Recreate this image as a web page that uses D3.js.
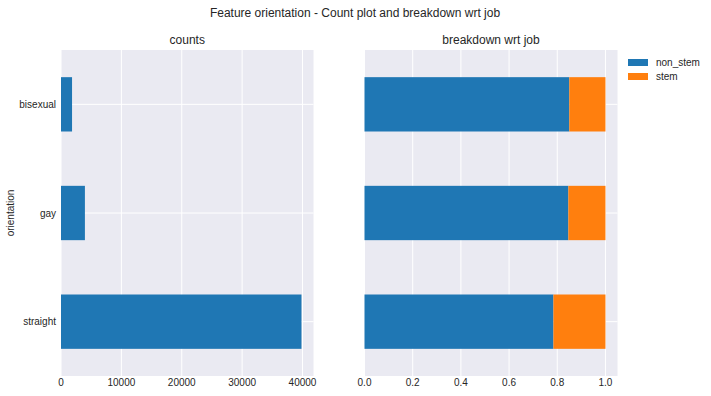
<!DOCTYPE html>
<html>
<head>
<meta charset="utf-8">
<script src="https://d3js.org/d3.v7.min.js"></script>
<style>
  body { margin: 0; background: #fff; }
  text { font-family: "Liberation Sans", Arial, sans-serif; fill: #262626; }
</style>
</head>
<body>
<div id="chart"></div>
<script>
// data
var categories = ["bisexual", "gay", "straight"];
var counts = [1830, 3960, 39830];
var nonStemShare = [0.85, 0.846, 0.784];
var stemShare = [0.15, 0.154, 0.216];
var seriesNames = ["non_stem", "stem"];
var countTicks = [0, 10000, 20000, 30000, 40000];
var shareTicks = [0, 0.2, 0.4, 0.6, 0.8, 1.0];

var W = 711, H = 396;
var blue = "#1f77b4", orange = "#ff7f0e", bg = "#eaeaf2";

var svg = d3.select("#chart").append("svg")
    .attr("width", W).attr("height", H);

var plotTop = 50, plotBottom = 376;

// shared y: categories at 0,1,2 with bars 0.5 wide, limits -0.5..2.5
var y = d3.scaleLinear().domain([-0.5, 2.5]).range([plotTop, plotBottom]);
var barH = y(0.25) - y(-0.25);

function panel(x0, x1, xScale, ticks, fmt, title) {
    var g = svg.append("g");
    g.append("rect").attr("x", x0).attr("y", plotTop)
        .attr("width", x1 - x0).attr("height", plotBottom - plotTop).attr("fill", bg);
    // grid
    g.selectAll(".vg").data(ticks).enter().append("line")
        .attr("x1", function(d){ return xScale(d); }).attr("x2", function(d){ return xScale(d); })
        .attr("y1", plotTop).attr("y2", plotBottom)
        .attr("stroke", "#fff").attr("stroke-width", 1);
    g.selectAll(".hg").data(categories).enter().append("line")
        .attr("x1", x0).attr("x2", x1)
        .attr("y1", function(d, i){ return y(i); }).attr("y2", function(d, i){ return y(i); })
        .attr("stroke", "#fff").attr("stroke-width", 1);
    // tick labels
    g.selectAll(".tl").data(ticks).enter().append("text")
        .attr("x", function(d){ return xScale(d); }).attr("y", plotBottom + 10)
        .attr("text-anchor", "middle").attr("font-size", 10)
        .text(fmt);
    g.append("text").attr("x", (x0 + x1) / 2).attr("y", plotTop - 6)
        .attr("text-anchor", "middle").attr("font-size", 12).text(title);
    return g;
}

// left: counts
var xc = d3.scaleLinear().domain([0, d3.max(counts) * 1.05]).range([61, 313.5]);
var gl = panel(61, 313.5, xc, countTicks, function(d){ return d; }, "counts");
gl.selectAll(".bar").data(counts).enter().append("rect")
    .attr("x", xc(0)).attr("y", function(d, i){ return y(i) - barH / 2; })
    .attr("width", function(d){ return xc(d) - xc(0); }).attr("height", barH)
    .attr("fill", blue);
gl.selectAll(".yl").data(categories).enter().append("text")
    .attr("x", 56).attr("y", function(d, i){ return y(i); })
    .attr("dy", "0.35em").attr("text-anchor", "end").attr("font-size", 10)
    .text(function(d){ return d; });
svg.append("text").attr("transform", "translate(14," + y(1) + ") rotate(-90)")
    .attr("text-anchor", "middle").attr("font-size", 10).text("orientation");

// right: breakdown
var xs = d3.scaleLinear().domain([0, 1.05]).range([364.5, 617.5]);
var gr = panel(364.5, 617.5, xs, shareTicks, d3.format(".1f"), "breakdown wrt job");
gr.selectAll(".ns").data(nonStemShare).enter().append("rect")
    .attr("x", xs(0)).attr("y", function(d, i){ return y(i) - barH / 2; })
    .attr("width", function(d){ return xs(d) - xs(0); }).attr("height", barH)
    .attr("fill", blue);
gr.selectAll(".st").data(stemShare).enter().append("rect")
    .attr("x", function(d, i){ return xs(nonStemShare[i]); })
    .attr("y", function(d, i){ return y(i) - barH / 2; })
    .attr("width", function(d, i){ return xs(nonStemShare[i] + d) - xs(nonStemShare[i]); })
    .attr("height", barH)
    .attr("fill", orange);

// legend
var lg = svg.append("g").attr("transform", "translate(628,59)");
seriesNames.forEach(function(name, i) {
    lg.append("rect").attr("x", 0).attr("y", i * 14).attr("width", 20).attr("height", 7)
        .attr("fill", i === 0 ? blue : orange);
    lg.append("text").attr("x", 28).attr("y", i * 14 + 3.5).attr("dy", "0.35em")
        .attr("font-size", 10).text(name);
});

svg.append("text").attr("x", 355).attr("y", 17).attr("text-anchor", "middle")
    .attr("font-size", 12).text("Feature orientation - Count plot and breakdown wrt job");
</script>
</body>
</html>
